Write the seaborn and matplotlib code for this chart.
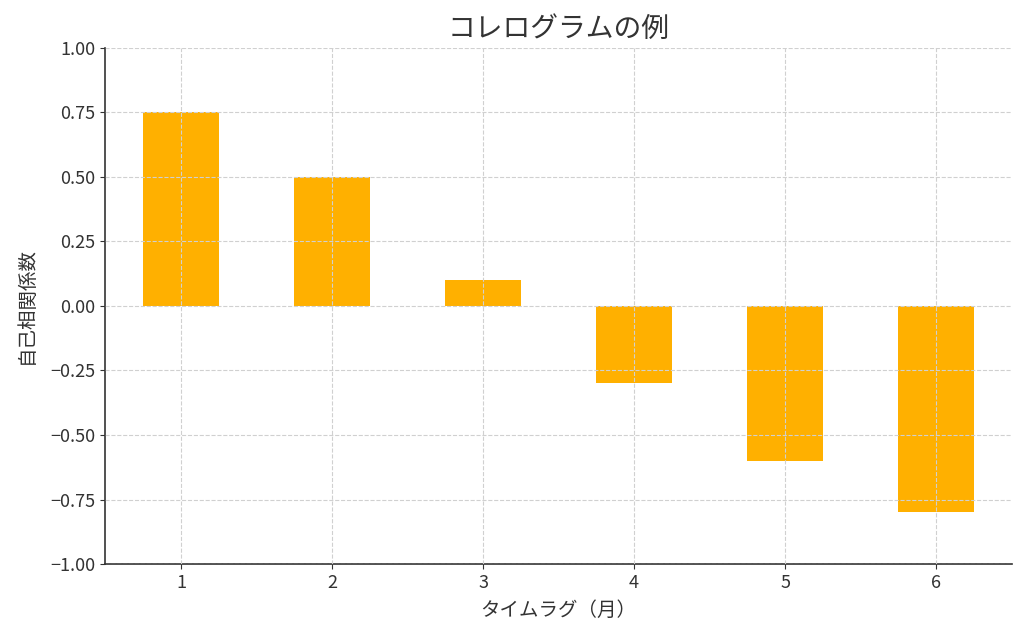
import pandas as pd
import matplotlib.pyplot as plt
import seaborn as sns

lags = [1, 2, 3, 4, 5, 6]
acf_values = [0.75, 0.5, 0.1, -0.3, -0.6, -0.8]
y_ticks = [-1.0, -0.75, -0.5, -0.25, 0.0, 0.25, 0.5, 0.75, 1.0]

df = pd.DataFrame({"lag": [str(l) for l in lags], "acf": acf_values})

sns.set_style("ticks")
plt.rcParams['font.family'] = ['Noto Sans CJK JP', 'DejaVu Sans']

fig, ax = plt.subplots(figsize=(10.24, 6.36), dpi=100)
sns.barplot(data=df, x="lag", y="acf", color="#FFB000", width=0.5, ax=ax,
            saturation=1, linewidth=0)

ax.set_ylim(-1, 1)
ax.set_yticks(y_ticks)
ax.set_yticklabels([f"{v:.2f}".replace("-", "\u2212") for v in y_ticks])
ax.grid(True, linestyle="--", color="#d0d0d0", linewidth=0.8)
ax.set_axisbelow(False)
for bar in ax.patches:
    bar.set_zorder(1)
ax.set_title("コレログラムの例", fontsize=20, color="#333333", pad=8)
ax.set_xlabel("タイムラグ（月）", fontsize=14, color="#333333", labelpad=6)
ax.set_ylabel("自己相関係数", fontsize=14, color="#333333", labelpad=10)
ax.tick_params(labelsize=13, colors="#333333")
sns.despine(ax=ax)
for s in ["left", "bottom"]:
    ax.spines[s].set_color("#333333")
    ax.spines[s].set_linewidth(1.2)

plt.subplots_adjust(left=0.103, right=0.988, top=0.925, bottom=0.113)
plt.savefig("out.png")
plt.close()
